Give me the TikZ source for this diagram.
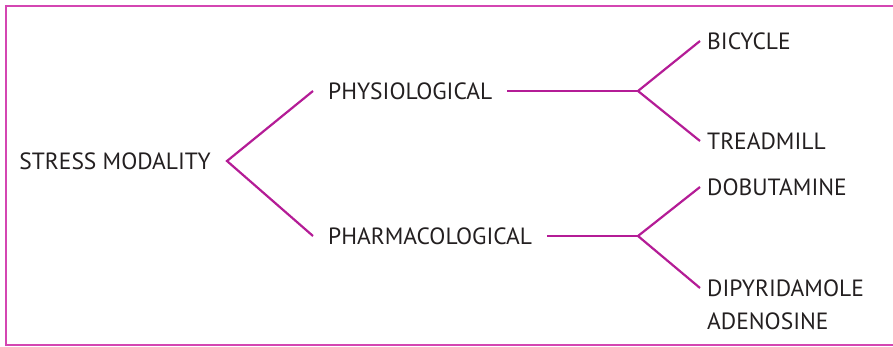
\documentclass[tikz,border=0pt]{standalone}
\usepackage{fontspec}
\setmainfont{PT Sans}
\usetikzlibrary{positioning}
\definecolor{linemag}{RGB}{180,28,150}
\definecolor{framemag}{RGB}{212,70,178}
\definecolor{txtgray}{RGB}{35,31,32}

\begin{document}
\begin{tikzpicture}[
  x=1pt, y=-1pt,
  label/.style={font=\fontsize{23.5}{28}\selectfont, text=txtgray, inner ysep=0pt},
  leaf/.style={label, inner xsep=7pt, anchor=west},
  branch/.style={draw=linemag, line width=2.2pt},
]
\useasboundingbox (0,0) rectangle (893,346);
\draw[framemag, line width=1.5pt] (893,6) -- (6,6) -- (6,345) -- (893,345);

\node[label, inner xsep=16pt, anchor=east] (stress) at (227,161) {STRESS MODALITY};
\node[label, inner xsep=15pt, anchor=west] (phys) at (313,91) {PHYSIOLOGICAL};
\node[label, inner xsep=15pt, anchor=west] (pharm) at (313,236) {PHARMACOLOGICAL};
\node[leaf] (bicycle) at (700,41) {BICYCLE};
\node[leaf] (treadmill) at (700,141) {TREADMILL};
\node[leaf] (dobutamine) at (700,187) {DOBUTAMINE};
\node[leaf] (dipy) at (700,288) {DIPYRIDAMOLE};
\node[leaf, below=16pt of dipy.south west, anchor=north west] (aden) {ADENOSINE};

\coordinate (physfork) at (638,91);
\coordinate (pharmfork) at (638,236);

\draw[branch] (phys.west) -- (stress.east) -- (pharm.west);
\draw[branch] (phys.east) -- (physfork);
\draw[branch] (bicycle.west) -- (physfork) -- (treadmill.west);
\draw[branch] (pharm.east) -- (pharmfork);
\draw[branch] (dobutamine.west) -- (pharmfork) -- (dipy.west);
\end{tikzpicture}
\end{document}
